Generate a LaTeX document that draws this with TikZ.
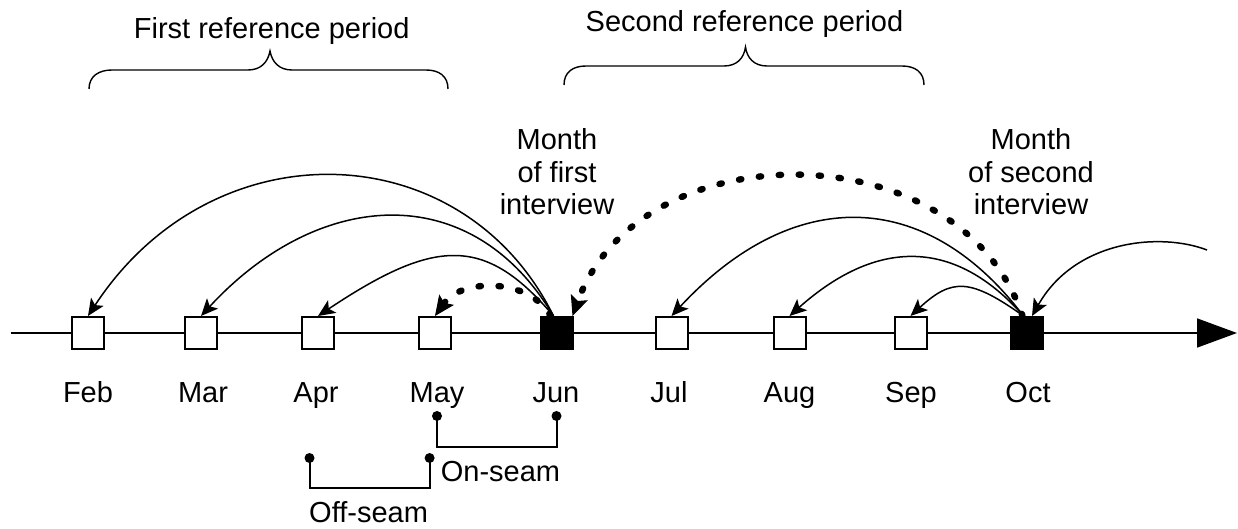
\documentclass[tikz,border=0pt]{standalone}
\usepackage{fontspec}
\setmainfont{Liberation Sans}
\usetikzlibrary{arrows.meta,calc}
\begin{document}
\begin{tikzpicture}[x=0.5pt,y=-0.5pt,
  font=\fontsize{14.5}{16.25}\selectfont,
  monthbox/.style={draw=black,line width=1pt,fill=white,minimum size=16pt,inner sep=0pt},
  interviewbox/.style={monthbox,fill=black},
  lbl/.style={anchor=base,inner sep=0pt},
  arcline/.style={line width=0.75pt,-{Stealth[length=8.5pt,width=7.5pt,inset=2pt]}},
  dotarc/.style={line width=3.2pt,line cap=round,dash pattern=on 1.2pt off 8.8pt,
    -{Stealth[length=10pt,width=9pt,inset=2pt,line width=0.5pt 0]}},
  bracepath/.style={line width=0.7pt},
  seamdot/.style={circle,fill=black,inner sep=0pt,minimum size=5pt},
  seamline/.style={line width=1pt}
]
\useasboundingbox (0,0) rectangle (1238,529);

% timeline
\coordinate (tl0) at (10.7,333);
\coordinate (tl1) at (1237,333);
\draw[line width=0.85pt,-{Triangle[length=20pt,width=14.5pt]}] (tl0) -- (tl1);

% month boxes
\node[monthbox] (feb) at (88,333) {};
\node[monthbox] (mar) at (201,333) {};
\node[monthbox] (apr) at (318,333) {};
\node[monthbox] (may) at (435,333) {};
\node[interviewbox] (jun) at (556.5,333) {};
\node[monthbox] (jul) at (671.5,333) {};
\node[monthbox] (aug) at (789.5,333) {};
\node[monthbox] (sep) at (910.5,333) {};
\node[interviewbox] (oct) at (1026.5,333) {};

% month labels
\node[lbl] (lfeb) at (88,403) {Feb};
\node[lbl] (lmar) at (203,403) {Mar};
\node[lbl] (lapr) at (316,403) {Apr};
\node[lbl] (lmay) at (437,403) {May};
\node[lbl] (ljun) at (556,403) {Jun};
\node[lbl] (ljul) at (669,403) {Jul};
\node[lbl] (laug) at (789.5,403) {Aug};
\node[lbl] (lsep) at (911,403) {Sep};
\node[lbl] (loct) at (1028,403) {Oct};

% period titles
\node[lbl] (t1) at (271.7,39) {First reference period};
\node[lbl] (t2) at (744.5,32) {Second reference period};

% braces
\draw[bracepath] (89,89) .. controls (89,76) and (99,70) .. (112,70) -- (248,70)
  .. controls (261,70) and (268,62) .. (270,51)
  .. controls (272,62) and (279,70) .. (292,70) -- (426,70)
  .. controls (439,70) and (448,76) .. (448,89);
\draw[bracepath] (564,85) .. controls (564,72) and (573,66) .. (586,66) -- (724,66)
  .. controls (737,66) and (744,58) .. (745.5,47)
  .. controls (747,58) and (754,66) .. (767,66) -- (902,66)
  .. controls (915,66) and (924,72) .. (924,85);

% interview labels (base = last line)
\node[align=center,anchor=base,inner sep=0pt] (m1) at (557,215) {Month\\of first\\interview};
\node[align=center,anchor=base,inner sep=0pt] (m2) at (1031,215) {Month\\of second\\interview};

% arcs from June
\draw[arcline] ($(jun.north)+(-3,0)$) .. controls (463,133) and (213,125) .. (feb.north);
\draw[arcline] ($(jun.north)+(-3,0)$) .. controls (470,176) and (317,190) .. (mar.north);
\draw[arcline] ($(jun.north)+(-3,0)$) .. controls (485,235) and (435,238) .. (apr.north);
\draw[dotarc] ($(jun.north)+(-6,0)$) .. controls (530,278) and (462,278) .. (may.north);

% arcs from October
\draw[arcline] ($(oct.north)+(-3,0)$) .. controls (925,186) and (792,186) .. (jul.north);
\draw[arcline] ($(oct.north)+(-3,0)$) .. controls (955,238) and (877,238) .. (aug.north);
\draw[arcline] ($(oct.north)+(-3,0)$) .. controls (970,278) and (952,278) .. (sep.north);
\draw[dotarc] ($(oct.north)+(-4,0)$) .. controls (960,130) and (640,130) .. ($(jun.north east)+(-1,0)$);

% incoming arc
\coordinate (rin) at (1207,250);
\draw[arcline] (rin) .. controls (1160,232) and (1075,240) .. ($(oct.north)+(5.5,0)$);

% seam brackets
\node[seamdot] (on1) at (437,416) {};
\node[seamdot] (on2) at (556.5,416) {};
\draw[seamline] (on1.center) -- ($(on1.center)+(0,31)$) -| (on2.center);
\node[lbl] (onlbl) at (500.5,481) {On-seam};

\node[seamdot] (off1) at (309.5,458) {};
\node[seamdot] (off2) at (429.6,458) {};
\draw[seamline] (off1.center) -- ($(off1.center)+(0,30)$) -| (off2.center);
\node[lbl] (offlbl) at (368.6,523) {Off-seam};
\end{tikzpicture}
\end{document}
